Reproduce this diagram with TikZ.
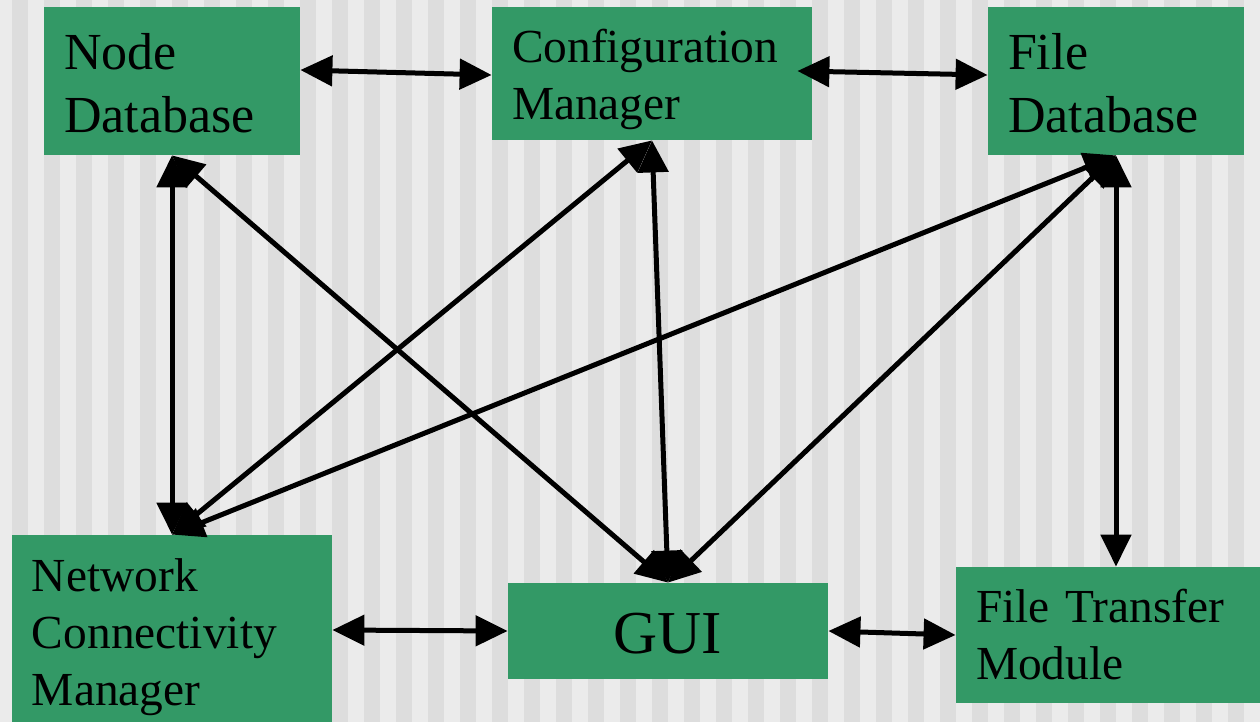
\documentclass[tikz,border=0pt]{standalone}
\usepackage{fontspec}
\setmainfont{Liberation Serif}
\usetikzlibrary{arrows.meta}
\definecolor{boxgreen}{RGB}{51,153,102}
\definecolor{stripedark}{RGB}{221,221,221}
\definecolor{stripelight}{RGB}{235,235,235}

\begin{document}
\begin{tikzpicture}[
		x=0.5pt, y=-0.5pt,
		module/.style={rectangle, fill=boxgreen, inner xsep=10pt, inner ysep=0pt,
			text width=140pt, align=left, font=\fontsize{23.7pt}{28.5pt}\selectfont},
		bigmodule/.style={module, text width=108pt, font=\fontsize{26pt}{31.5pt}\selectfont},
		link/.style={line width=2.5pt, {Triangle[length=16pt,width=15pt]}-{Triangle[length=16pt,width=15pt]}}
		]
		\fill[stripelight] (0,0) rectangle (1260,722);
		\foreach \k in {0,...,38}
			\fill[stripedark] (12+32*\k,0) rectangle (28+32*\k,722);
		\useasboundingbox (0,0) rectangle (1260,722);
		
		\node[bigmodule, text height=31.5pt, text depth=42.5pt] (ndb) at (172,81) {Node\\Database};
		\node[module, text height=28pt, text depth=38.5pt] (cfg) at (652,73.5) {Configuration\\Manager};
		\node[bigmodule, text height=31.5pt, text depth=42.5pt] (fdb) at (1116,81) {File\\Database};
		\node[module, text height=28pt, text depth=67pt] (ncm) at (172,630) {Network\\Connectivity\\Manager};
		\node[module, align=center, text height=35pt, text depth=13pt,
			font=\fontsize{30.5pt}{36pt}\selectfont] (gui) at (668,631) {GUI};
		\node[module, text height=27.5pt, text depth=40.5pt] (ftm) at (1116,635) {File Transfer\\Module};
		
		\draw[link] ([yshift=5.5pt]ndb.east) -- ([yshift=-0.75pt]cfg.west);
		\draw[link] ([xshift=-7.5pt,yshift=1.25pt]cfg.east) -- ([yshift=3pt]fdb.west);
		\draw[link] (ndb.south) -- (ncm.north);
		\draw[link] (ndb.south) -- (gui.north);
		\draw[link] (cfg.south) -- (ncm.north);
		\draw[link] (cfg.south) -- (gui.north);
		\draw[link] (fdb.south) -- (ncm.north);
		\draw[link] (fdb.south) -- (gui.north);
		\draw[link] (fdb.south) -- (ftm.north);
		\draw[link] (ncm.east) -- (gui.west);
		\draw[link] (gui.east) -- (ftm.west);
\end{tikzpicture}
\end{document}
